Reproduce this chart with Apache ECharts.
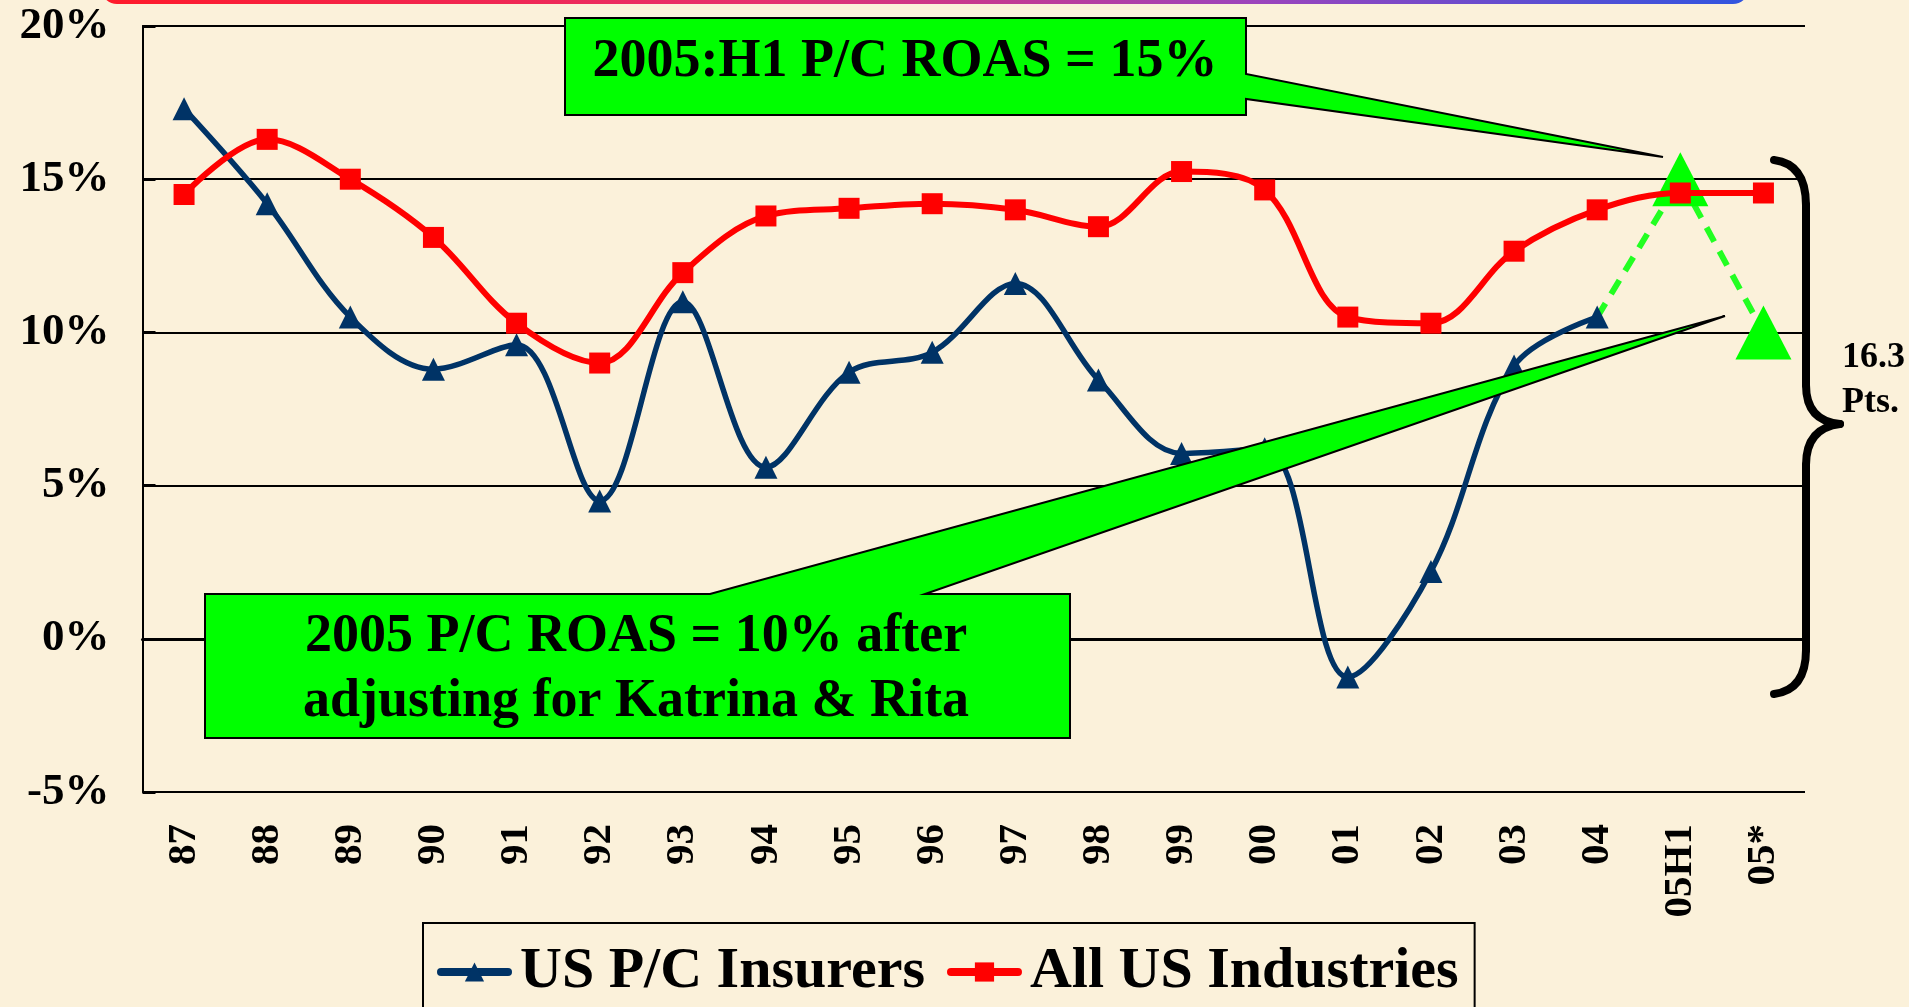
<!DOCTYPE html>
<html>
<head>
<meta charset="utf-8">
<script src="https://cdn.jsdelivr.net/npm/echarts@6/dist/echarts.min.js"></script>
<style>
html,body{margin:0;padding:0;background:#fbf1da;}
#c{width:1909px;height:1007px;}
</style>
</head>
<body>
<div id="c"></div>
<script>
// ---- data ----
const categories = ['87','88','89','90','91','92','93','94','95','96','97','98','99','00','01','02','03','04','05H1','05*'];
const pcInsurers = [17.3,14.2,10.5,8.8,9.6,4.5,11.0,5.6,8.7,9.35,11.6,8.45,6.05,6.2,-1.25,2.2,8.9,10.5,null,null];
const allIndustries = [14.5,16.3,15.0,13.1,10.3,9.0,11.95,13.8,14.05,14.2,14.0,13.45,15.25,14.65,10.5,10.3,12.65,14.0,14.55,14.55];
const pcEstimate = [null,null,null,null,null,null,null,null,null,null,null,null,null,null,null,null,null,10.5,15.0,10.0];
const yMin = -5, yMax = 20, yStep = 5;
const legendNames = ['US P/C Insurers','All US Industries'];
const note1 = '2005:H1 P/C ROAS = 15%';
const note2a = '2005 P/C ROAS = 10% after';
const note2b = 'adjusting for Katrina & Rita';
const braceLabel = ['16.3','Pts.'];

const FONT = '"Liberation Serif", "Times New Roman", serif';
const chart = echarts.init(document.getElementById('c'), null, {renderer:'canvas'});

const estimateData = pcEstimate.map((v, i) => (v === null ? null : (i === 17 ? {value: v, symbol: 'none'} : v)));

const braceStyle = {fill: 'none', stroke: '#000', lineWidth: 8, lineCap: 'round'};
function curve(x1, y1, cx, cy, x2, y2) {
  return {type: 'bezierCurve', z: 100, shape: {x1, y1, x2, y2, cpx1: cx, cpy1: cy}, style: braceStyle};
}
function seg(x1, y1, x2, y2) {
  return {type: 'line', z: 100, shape: {x1, y1, x2, y2}, style: braceStyle};
}

chart.setOption({
  backgroundColor: '#fbf1da',
  animation: false,
  grid: {left: 142.5, right: 104, top: 26, bottom: 215, containLabel: false},
  legend: {
    data: legendNames,
    left: 423, top: 923,
    orient: 'horizontal',
    padding: [20, 16, 40, 14],
    borderColor: '#000', borderWidth: 2,
    itemWidth: 67, itemHeight: 24, itemGap: 22,
    lineStyle: {width: 8, cap: 'round'},
    textStyle: {fontFamily: FONT, fontWeight: 'bold', fontSize: 58, color: '#000', padding: [0,0,0,7]}
  },
  xAxis: {
    type: 'category',
    data: categories,
    boundaryGap: true,
    axisLine: {lineStyle: {color: '#000', width: 3}},
    axisTick: {inside: true, length: 14, lineStyle: {color: '#000', width: 2}},
    axisLabel: {rotate: 90, margin: 32, fontFamily: FONT, fontWeight: 'bold', fontSize: 41, color: '#000', interval: 0}
  },
  yAxis: {
    type: 'value',
    min: yMin, max: yMax, interval: yStep,
    axisLine: {show: true, lineStyle: {color: '#000', width: 2}},
    axisTick: {show: true, inside: true, length: 13, lineStyle: {color: '#000', width: 3}},
    splitLine: {lineStyle: {color: '#000', width: 1.8}},
    axisLabel: {formatter: '{value}%', margin: 33, fontFamily: FONT, fontWeight: 'bold', fontSize: 45, color: '#000'}
  },
  series: [
    {
      name: 'estimate', type: 'line', data: estimateData, z: 2,
      smooth: false, symbol: 'triangle', symbolSize: [56, 54],
      itemStyle: {color: '#00ff00'},
      lineStyle: {color: '#22ff22', width: 6, type: [16, 11]},
      connectNulls: false
    },
    {
      name: legendNames[0], type: 'line', data: pcInsurers, z: 3,
      smooth: 0.35, symbol: 'triangle', symbolSize: 23,
      itemStyle: {color: '#003366'},
      lineStyle: {color: '#003366', width: 5.5}
    },
    {
      name: legendNames[1], type: 'line', data: allIndustries, z: 4,
      smooth: 0.35, symbol: 'rect', symbolSize: 21,
      itemStyle: {color: '#ff0000'},
      lineStyle: {color: '#ff0000', width: 6}
    }
  ],
  graphic: [
    {
      type: 'rect', z: 100,
      shape: {x: 103, y: -40, width: 1644, height: 42, r: 14},
      style: {fill: 'none', lineWidth: 4,
        stroke: new echarts.graphic.LinearGradient(0, 0, 1, 0, [
          {offset: 0, color: '#ff1a2a'}, {offset: 0.4, color: '#e6306e'},
          {offset: 0.7, color: '#9c44bc'}, {offset: 1, color: '#2f55e0'}])}
    },
    {
      type: 'polygon', z: 100,
      shape: {points: [[565,18],[1246,18],[1246,74],[1663,157],[1246,99],[1246,115],[565,115]]},
      style: {fill: '#00ff00', stroke: '#000', lineWidth: 2}
    },
    {
      type: 'text', z: 101, x: 905, y: 62,
      style: {text: note1, font: 'bold 54px ' + FONT, fill: '#000', textAlign: 'center', textVerticalAlign: 'middle'}
    },
    {
      type: 'polygon', z: 100,
      shape: {points: [[205,594],[710,594],[1725,316],[925,594],[1070,594],[1070,738],[205,738]]},
      style: {fill: '#00ff00', stroke: '#000', lineWidth: 2}
    },
    {
      type: 'text', z: 101, x: 636, y: 637,
      style: {text: note2a, font: 'bold 54px ' + FONT, fill: '#000', textAlign: 'center', textVerticalAlign: 'middle'}
    },
    {
      type: 'text', z: 101, x: 636, y: 702,
      style: {text: note2b, font: 'bold 54px ' + FONT, fill: '#000', textAlign: 'center', textVerticalAlign: 'middle'}
    },
    curve(1774, 160, 1806, 164, 1806, 205),
    seg(1806, 205, 1806, 385),
    curve(1806, 385, 1806, 421, 1840, 424),
    curve(1840, 424, 1806, 428, 1806, 465),
    seg(1806, 465, 1806, 650),
    curve(1806, 650, 1806, 690, 1774, 694),
    {
      type: 'text', z: 101, x: 1842, y: 358,
      style: {text: braceLabel[0], font: 'bold 36px ' + FONT, fill: '#000', textAlign: 'left', textVerticalAlign: 'middle'}
    },
    {
      type: 'text', z: 101, x: 1842, y: 403,
      style: {text: braceLabel[1], font: 'bold 36px ' + FONT, fill: '#000', textAlign: 'left', textVerticalAlign: 'middle'}
    }
  ]
});
</script>
</body>
</html>
